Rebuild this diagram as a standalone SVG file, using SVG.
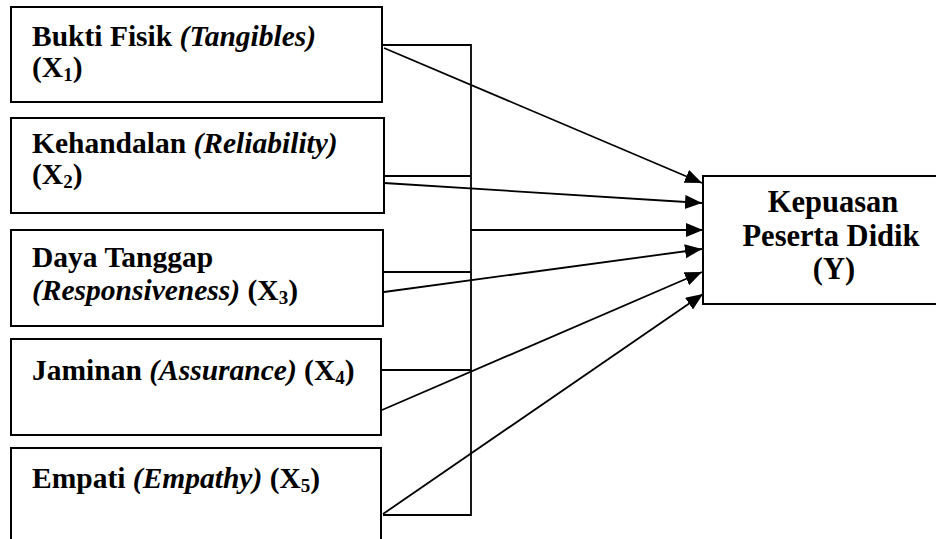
<svg xmlns="http://www.w3.org/2000/svg" width="936" height="539" viewBox="0 0 936 539">
<style>
.box{fill:#fff;stroke:#000;stroke-width:2}
.t{font-family:'Liberation Serif',serif;font-weight:700;font-size:29.5px;fill:#000}
.y{font-size:30.5px}
.i{font-style:italic}
.s{font-size:19px}
.c{stroke:#000;stroke-width:1.8;fill:none}
.a{stroke:#000;stroke-width:1.8;fill:none;marker-end:url(#ah)}
</style>
<defs>
<marker id="ah" markerUnits="userSpaceOnUse" markerWidth="20" markerHeight="16" refX="17" refY="7" orient="auto">
<path d="M0,0 L17,7 L0,14 Z" fill="#000"/>
</marker>
</defs>
<rect width="936" height="539" fill="#fff"/>
<g id="x1">
<rect class="box" x="11" y="7" width="371" height="95"/>
<text class="t" x="32" y="46">Bukti Fisik <tspan class="i">(Tangibles)</tspan></text>
<text class="t" x="32" y="77">(X<tspan class="s" dy="4">1</tspan><tspan dy="-4">)</tspan></text>
</g>
<g id="x2">
<rect class="box" x="11" y="118" width="373" height="95"/>
<text class="t" x="32" y="153">Kehandalan <tspan class="i">(Reliability)</tspan></text>
<text class="t" x="32" y="184">(X<tspan class="s" dy="4">2</tspan><tspan dy="-4">)</tspan></text>
</g>
<g id="x3">
<rect class="box" x="11" y="230" width="372" height="96"/>
<text class="t" x="32" y="267">Daya Tanggap</text>
<text class="t" x="32" y="300"><tspan class="i">(Responsiveness)</tspan> (X<tspan class="s" dy="4">3</tspan><tspan dy="-4">)</tspan></text>
</g>
<g id="x4">
<rect class="box" x="11" y="339" width="370" height="96"/>
<text class="t" x="32" y="380">Jaminan <tspan class="i">(Assurance)</tspan> (X<tspan class="s" dy="4">4</tspan><tspan dy="-4">)</tspan></text>
</g>
<g id="x5">
<rect class="box" x="11" y="448" width="370" height="100"/>
<text class="t" x="32" y="488">Empati <tspan class="i">(Empathy)</tspan> (X<tspan class="s" dy="4">5</tspan><tspan dy="-4">)</tspan></text>
</g>
<g id="y">
<rect class="box" x="703" y="176" width="240" height="128"/>
<text class="t y" x="833" y="212" text-anchor="middle">Kepuasan</text>
<text class="t y" x="831" y="246" text-anchor="middle">Peserta Didik</text>
<text class="t y" x="834" y="279" text-anchor="middle">(Y)</text>
</g>
<g id="connectors">
<polyline class="c" points="383,45 471,45 471,515 383,515"/>
<line class="c" x1="383" y1="176" x2="471" y2="176"/>
<line class="c" x1="383" y1="272" x2="471" y2="272"/>
<line class="c" x1="382" y1="370" x2="471" y2="370"/>
<line class="a" x1="384" y1="48" x2="702" y2="183"/>
<line class="a" x1="384" y1="183" x2="702" y2="203"/>
<line class="a" x1="471" y1="230" x2="703" y2="230"/>
<line class="a" x1="384" y1="292" x2="702" y2="249"/>
<line class="a" x1="382" y1="410" x2="702" y2="272"/>
<line class="a" x1="383" y1="514" x2="703" y2="294"/>
</g>
</svg>
